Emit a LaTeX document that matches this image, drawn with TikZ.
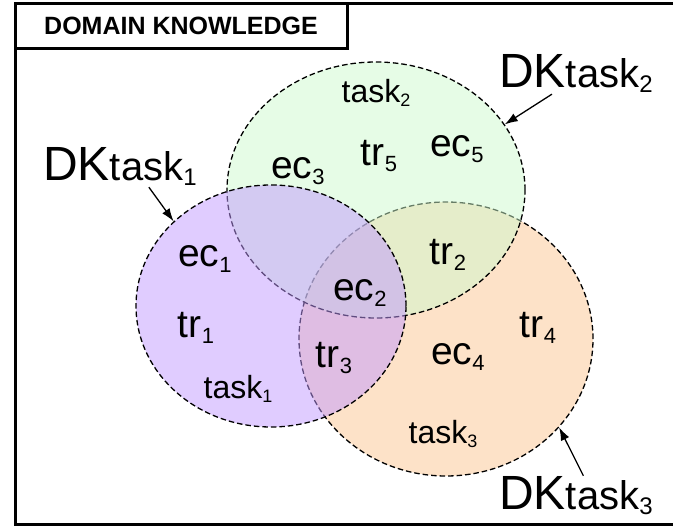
\documentclass[tikz,border=0pt]{standalone}
\usepackage{fontspec}
\setmainfont{Liberation Sans}
\usepackage{graphicx}
\usetikzlibrary{shapes.geometric,arrows.meta}

\definecolor{dkgreen}{RGB}{205,249,205}
\definecolor{dkpurple}{RGB}{193,153,255}
\definecolor{dkorange}{RGB}{251,197,145}

\newcommand{\eclabel}[2]{{\fontsize{39}{39}\selectfont #1}\raisebox{-6pt}{\fontsize{22}{22}\selectfont #2}}
\newcommand{\tasklabel}[1]{{\fontsize{32}{32}\selectfont task}\raisebox{-4pt}{\fontsize{18}{18}\selectfont #1}}
\newcommand{\dklabel}[1]{{\fontsize{48}{48}\selectfont DK}{\fontsize{40}{40}\selectfont task}\raisebox{-5pt}{\fontsize{24}{24}\selectfont #1}}

\begin{document}
\begin{tikzpicture}[
    x=1pt, y=-1pt,
    frame/.style={draw, line width=3pt},
    dkset/.style={
      ellipse, draw, inner sep=0pt,
      line width=1.3pt, dash pattern=on 5.5pt off 3pt,
      fill opacity=0.5
      },
    lbl/.style={anchor=base, inner sep=0pt},
    dk/.style={anchor=base, inner sep=1pt},
    arr/.style={-{Latex[length=13pt,width=9pt]}, line width=1.3pt}
    ]
    \useasboundingbox (0,0) rectangle (673,529);

    % Frame
    \draw[frame] (690,3.5) -- (15,3.5) -- (15,525) -- (690,525);
    \draw[frame] (15,3.5) rectangle (347,49);
    \node[lbl] (title) at (181,35) {\fontsize{25}{25}\selectfont\bfseries DOMAIN KNOWLEDGE};

    % Task sets
    \node[dkset, fill=dkorange, minimum width=294pt, minimum height=274pt] (task3) at (446,339) {};
    \node[dkset, fill=dkgreen, minimum width=298pt, minimum height=256pt] (task2) at (376,190) {};
    \node[dkset, fill=dkpurple, minimum width=270pt, minimum height=242pt] (task1) at (271,306) {};

    % Contents
    \foreach \x/\y/\t/\i in {298/179/ec/3, 379/166/tr/5, 457/157/ec/5,
                             205/267/ec/1, 448/265/tr/2, 360/301/ec/2,
                             196/338/tr/1, 538/338/tr/4, 334/368/tr/3,
                             458/365/ec/4}
        \node[lbl] (\t\i) at (\x,\y) {\eclabel{\t}{\i}};
    \node[lbl] (name2) at (376,103) {\tasklabel{2}};
    \node[lbl] (name1) at (238,399) {\tasklabel{1}};
    \node[lbl] (name3) at (443,444) {\tasklabel{3}};

    % Labels
    \node[dk] (dk1) at (120,181) {\dklabel{1}};
    \node[dk] (dk2) at (576,88) {\dklabel{2}};
    \node[dk] (dk3) at (576,510) {\dklabel{3}};

    \draw[arr] (dk1.-35) -- (task1.139);
    \draw[arr] (dk2.-140) -- (task2.27);
    \draw[arr] (dk3.70) -- (task3.-38);
\end{tikzpicture}
\end{document}
